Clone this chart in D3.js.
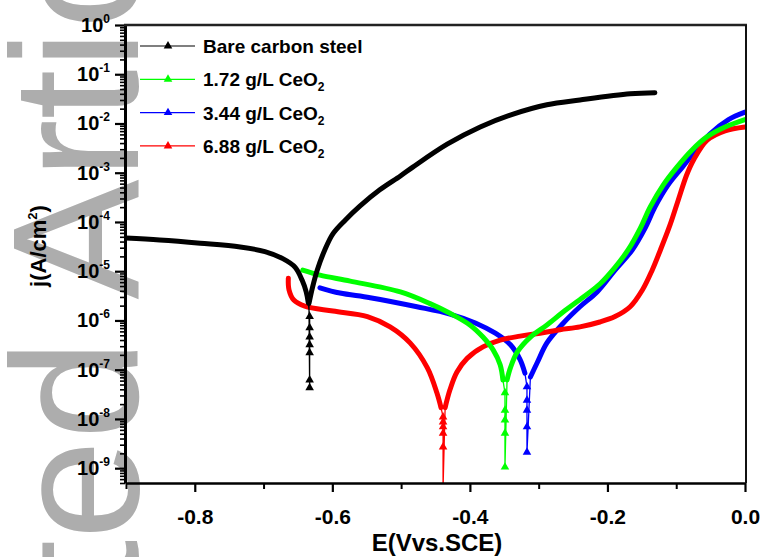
<!DOCTYPE html>
<html lang="en">
<head>
<meta charset="UTF-8"/>
<title>Tafel plot</title>
<script src="https://d3js.org/d3.v7.min.js"></script>
<style>
  body { margin: 0; background: #fff; }
  text { font-family: Arial, "Liberation Sans", sans-serif; }
</style>
</head>
<body>
<svg id="chart" width="765" height="557"></svg>
<script>
// ---- data (E in V vs SCE, j in A/cm2) ----
var seriesColors = ["#000000", "#00ff00", "#0000ff", "#ff0000"];
var labelMain = ["Bare carbon steel", "1.72 g/L CeO", "3.44 g/L CeO", "6.88 g/L CeO"];
var labelSub = ["", "2", "2", "2"];

// corrosion potential of each dip (sparse markers sit here)
var dipE = [-0.633, -0.349, -0.317, -0.439];

// bare carbon steel
var bareCathE = [-0.900, -0.851, -0.792, -0.734, -0.698, -0.672, -0.654, -0.644, -0.638, -0.635];
var bareCathJ = [4.7e-5, 4.3e-5, 3.7e-5, 3.1e-5, 2.5e-5, 1.8e-5, 1.2e-5, 6.6e-6, 3.8e-6, 2.3e-6];
var bareDipJ = [1.2e-6, 7.1e-7, 4.6e-7, 3.2e-7, 2.2e-7, 6.2e-8, 4.3e-8];
var bareAnoE = [-0.634, -0.629, -0.622, -0.611, -0.599, -0.581, -0.560, -0.531, -0.501, -0.483, -0.433, -0.385, -0.337, -0.288, -0.240, -0.167, -0.131];
var bareAnoJ = [2.2e-6, 4.6e-6, 1.05e-5, 2.7e-5, 5.8e-5, 1.1e-4, 2.1e-4, 4.5e-4, 8.6e-4, 1.3e-3, 3.8e-3, 8.5e-3, 1.55e-2, 2.4e-2, 3.0e-2, 4.0e-2, 4.2e-2];

// 1.72 g/L CeO2
var c172CathE = [-0.643, -0.618, -0.574, -0.501, -0.458, -0.429, -0.400, -0.381, -0.366, -0.356, -0.352];
var c172CathJ = [1.05e-5, 8.3e-6, 6.3e-6, 3.8e-6, 2.2e-6, 1.4e-6, 8.1e-7, 4.6e-7, 2.5e-7, 1.26e-7, 6.2e-8];
var c172DipJ = [3.4e-8, 1.5e-8, 9.5e-9, 5.1e-9, 1.05e-9];
var c172AnoE = [-0.346, -0.341, -0.331, -0.312, -0.288, -0.264, -0.235, -0.211, -0.189, -0.170, -0.152, -0.138, -0.119, -0.099, -0.077, -0.055, -0.029, 0.0];
var c172AnoJ = [6.2e-8, 1.1e-7, 2.3e-7, 4.6e-7, 8.1e-7, 1.5e-6, 3.0e-6, 5.5e-6, 1.2e-5, 2.7e-5, 7.6e-5, 2.0e-4, 5.6e-4, 1.3e-3, 2.9e-3, 5.4e-3, 8.5e-3, 1.2e-2];

// 3.44 g/L CeO2
var c344CathE = [-0.618, -0.589, -0.545, -0.477, -0.429, -0.392, -0.363, -0.341, -0.327, -0.320];
var c344CathJ = [4.6e-6, 3.6e-6, 2.9e-6, 1.9e-6, 1.35e-6, 8.9e-7, 5.5e-7, 3.2e-7, 1.6e-7, 8.5e-8];
var c344DipJ = [4.5e-8, 2.4e-8, 1.5e-8, 6.9e-9, 2.1e-9];
var c344AnoE = [-0.312, -0.302, -0.288, -0.264, -0.240, -0.215, -0.189, -0.164, -0.145, -0.131, -0.112, -0.091, -0.071, -0.051, -0.024, 0.0];
var c344AnoJ = [7.1e-8, 1.4e-7, 3.5e-7, 8.9e-7, 1.9e-6, 3.8e-6, 1.05e-5, 2.7e-5, 7.6e-5, 2.0e-4, 5.6e-4, 1.3e-3, 2.9e-3, 6.1e-3, 1.2e-2, 1.7e-2];

// 6.88 g/L CeO2
var c688CathE = [-0.664, -0.663, -0.656, -0.640, -0.599, -0.549, -0.516, -0.487, -0.462, -0.448, -0.442];
var c688CathJ = [7.2e-6, 4.2e-6, 2.6e-6, 1.95e-6, 1.55e-6, 1.2e-6, 7.4e-7, 3.5e-7, 1.1e-7, 3.4e-8, 1.7e-8];
var c688DipJ = [1.1e-8, 8.7e-9, 6.9e-9, 5.1e-9, 2.7e-9, 4e-10];
var c688AnoE = [-0.436, -0.429, -0.419, -0.404, -0.381, -0.356, -0.327, -0.298, -0.269, -0.240, -0.211, -0.189, -0.167, -0.149, -0.135, -0.123, -0.109, -0.097, -0.085, -0.075, -0.055, -0.029, 0.0];
var c688AnoJ = [1.7e-8, 3.9e-8, 8.9e-8, 1.7e-7, 2.9e-7, 4.0e-7, 4.8e-7, 5.5e-7, 6.5e-7, 7.4e-7, 9.3e-7, 1.2e-6, 1.9e-6, 4.2e-6, 1.05e-5, 2.7e-5, 8.7e-5, 2.8e-4, 8.9e-4, 1.8e-3, 4.6e-3, 7.1e-3, 8.5e-3];

var xTicks = [-0.8, -0.6, -0.4, -0.2, 0.0];
var xMinorTicks = [-0.9, -0.7, -0.5, -0.3, -0.1];
var yExponents = [0, -1, -2, -3, -4, -5, -6, -7, -8, -9];

// ---- build the series table ----
function zip(es, js) { return es.map(function(e, i) { return {E: e, j: js[i]}; }); }
function dip(e, js) { return js.map(function(j) { return {E: e, j: j}; }); }

var series = [
  {cath: zip(bareCathE, bareCathJ), dip: dip(dipE[0], bareDipJ), ano: zip(bareAnoE, bareAnoJ)},
  {cath: zip(c172CathE, c172CathJ), dip: dip(dipE[1], c172DipJ), ano: zip(c172AnoE, c172AnoJ)},
  {cath: zip(c344CathE, c344CathJ), dip: dip(dipE[2], c344DipJ), ano: zip(c344AnoE, c344AnoJ)},
  {cath: zip(c688CathE, c688CathJ), dip: dip(dipE[3], c688DipJ), ano: zip(c688AnoE, c688AnoJ)}
];
series.forEach(function(s, i) { s.color = seriesColors[i]; });

var plotL = 126, plotR = 745, plotT = 25, plotB = 483;

var x = d3.scaleLinear().domain([-0.9, 0]).range([plotL, plotR]);
var y = d3.scaleLog().domain([5e-10, 1]).range([plotB, plotT]);

var svg = d3.select("#chart");

// watermark behind everything
svg.append("text")
  .attr("transform", "translate(138,1090) rotate(-90)")
  .style("font-size", "180px")
  .style("fill", "#adadad")
  .text("Accepted Article");

svg.append("clipPath").attr("id", "plotclip")
  .append("rect").attr("x", plotL).attr("y", plotT).attr("width", plotR - plotL + 2).attr("height", plotB - plotT);

var line = d3.line()
  .x(function(d) { return x(d.E); })
  .y(function(d) { return y(d.j); })
  .curve(d3.curveCatmullRom.alpha(0.5));
var thin = d3.line()
  .x(function(d) { return x(d.E); })
  .y(function(d) { return y(d.j); });

var tri = d3.symbol().type(d3.symbolTriangle).size(32);

var plot = svg.append("g").attr("clip-path", "url(#plotclip)");

// draw order: blue, red, green, black on top
[2, 3, 1, 0].forEach(function(i) {
  var s = series[i];
  var g = plot.append("g");
  var joint = [s.cath[s.cath.length - 1]].concat(s.dip).concat([s.ano[0]]);
  g.append("path").attr("d", thin(joint))
    .attr("fill", "none").attr("stroke", s.color).attr("stroke-width", 1.3);
  g.selectAll(".m").data(s.dip).enter().append("path")
    .attr("d", tri)
    .attr("transform", function(d) { return "translate(" + x(d.E) + "," + y(d.j) + ")"; })
    .attr("fill", s.color);
  [s.cath, s.ano].forEach(function(part) {
    g.append("path").attr("d", line(part))
      .attr("fill", "none").attr("stroke", s.color)
      .attr("stroke-width", 5).attr("stroke-linecap", "round").attr("stroke-linejoin", "round");
  });
});

// ---- axes ----
var yMajor = yExponents.map(function(e) { return Math.pow(10, e); });
var yMinor = [];
for (var e = -10; e < 0; e++) {
  for (var k = 2; k <= 9; k++) {
    var v = k * Math.pow(10, e);
    if (v >= 5e-10 && v < 1) yMinor.push(v);
  }
}

svg.append("g").attr("transform", "translate(" + (plotL - 1) + ",0)")
  .call(d3.axisLeft(y).tickValues(yMinor).tickSize(5).tickSizeOuter(0).tickFormat(""))
  .call(function(g) { g.selectAll("line").attr("stroke-width", 1.6); g.select(".domain").attr("stroke-width", 3); });

svg.append("g").attr("transform", "translate(" + (plotL - 1) + ",0)")
  .call(d3.axisLeft(y).tickValues(yMajor).tickSize(10).tickSizeOuter(0).tickFormat(""))
  .call(function(g) { g.selectAll("line").attr("stroke-width", 2.2); g.select(".domain").remove(); });

var ylab = svg.append("g");
yExponents.forEach(function(ex) {
  var t = ylab.append("text")
    .attr("x", 110).attr("y", y(Math.pow(10, ex)) + 7)
    .attr("text-anchor", "end")
    .style("font-size", "20px").style("font-weight", "bold");
  t.append("tspan").text("10");
  t.append("tspan").attr("dy", -9).style("font-size", "12px").text(ex === 0 ? "0" : String(ex));
});

svg.append("g").attr("transform", "translate(0," + plotB + ")")
  .call(d3.axisBottom(x).tickValues(xMinorTicks).tickSize(6).tickSizeOuter(0).tickFormat(""))
  .call(function(g) { g.selectAll("line").attr("stroke-width", 2); g.select(".domain").attr("stroke-width", 2.5); });

svg.append("g").attr("transform", "translate(0," + plotB + ")")
  .call(d3.axisBottom(x).tickValues(xTicks).tickSize(9).tickSizeOuter(0)
    .tickFormat(function(d) { return d.toFixed(1).replace("-0.0", "0.0"); }))
  .call(function(g) {
    g.selectAll("line").attr("stroke-width", 2.2);
    g.select(".domain").remove();
    g.selectAll("text").attr("y", 26).attr("dy", "0.71em")
      .style("font-size", "21px").style("font-weight", "bold").attr("fill", "#000");
  });

// frame top and right
svg.append("line").attr("x1", plotL - 2).attr("x2", plotR + 2).attr("y1", plotT).attr("y2", plotT)
  .attr("stroke", "#222").attr("stroke-width", 2.5);
svg.append("line").attr("x1", plotR + 1).attr("x2", plotR + 1).attr("y1", plotT).attr("y2", plotB)
  .attr("stroke", "#111").attr("stroke-width", 2);

// axis titles
svg.append("text")
  .attr("x", 437).attr("y", 551)
  .attr("text-anchor", "middle")
  .style("font-size", "24px").style("font-weight", "bold")
  .text("E(Vvs.SCE)");

var yt = svg.append("text")
  .attr("transform", "translate(46,246) rotate(-90)")
  .attr("text-anchor", "middle")
  .style("font-size", "22px").style("font-weight", "bold");
yt.append("tspan").text("j(A/cm");
yt.append("tspan").attr("dy", -9).style("font-size", "13px").text("2");
yt.append("tspan").attr("dy", 9).text(")");

// ---- legend ----
var legend = svg.append("g");
series.forEach(function(s, i) {
  var ry = 46 + i * 33.3;
  legend.append("line").attr("x1", 140).attr("x2", 195).attr("y1", ry).attr("y2", ry)
    .attr("stroke", s.color).attr("stroke-width", 1.2);
  legend.append("path").attr("d", tri).attr("transform", "translate(168," + ry + ")").attr("fill", s.color);
  var t = legend.append("text").attr("x", 203).attr("y", ry + 7)
    .style("font-size", "19px").style("font-weight", "bold");
  t.append("tspan").text(labelMain[i]);
  if (labelSub[i]) t.append("tspan").attr("dy", 5).style("font-size", "12px").text(labelSub[i]);
});
</script>
</body>
</html>
